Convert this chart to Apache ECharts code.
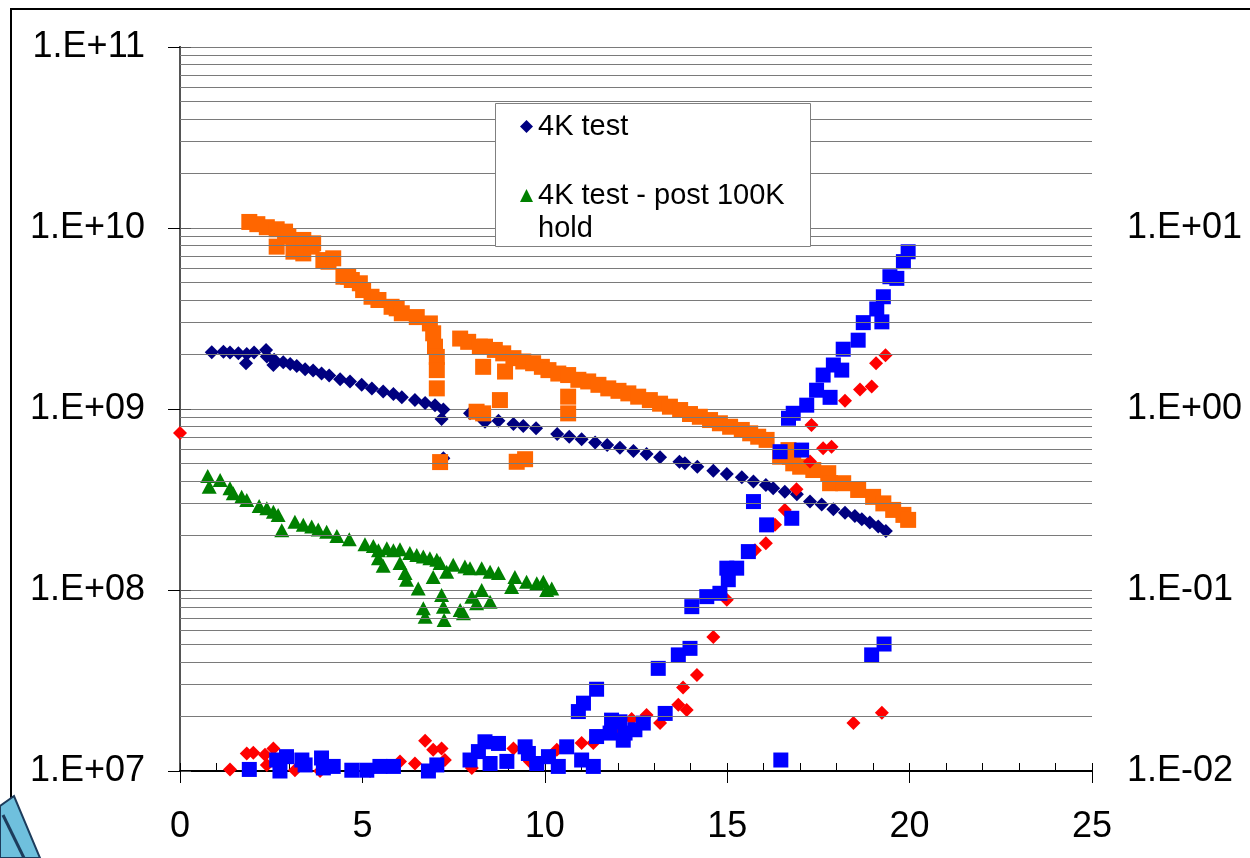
<!DOCTYPE html>
<html>
<head>
<meta charset="utf-8">
<script src="https://cdn.jsdelivr.net/npm/echarts@6/dist/echarts.min.js"></script>
<style>
html,body{margin:0;padding:0;background:#fff;}
#chart{width:1250px;height:858px;}
</style>
</head>
<body>
<div id="chart"></div>
<script>
// ---- DATA (x, value) ----
var seriesNames = ['4K test', '4K test - post 100K hold'];

var navyPts = [[0.87,2.06e9],[1.19,2.07e9],[1.37,2.05e9],[1.60,2.03e9],[1.81,1.79e9],[1.83,2.01e9],[2.03,2.05e9],[2.36,2.12e9],[2.38,1.95e9],[2.56,1.75e9],[2.58,1.87e9],[2.83,1.81e9],[3.02,1.77e9],[3.20,1.73e9],[3.43,1.66e9],[3.65,1.63e9],[3.88,1.57e9],[4.09,1.53e9],[4.39,1.46e9],[4.66,1.42e9],[4.98,1.36e9],[5.26,1.30e9],[5.57,1.25e9],[5.85,1.21e9],[6.08,1.16e9],[6.44,1.12e9],[6.72,1.08e9],[6.99,1.05e9],[7.22,9.95e8],[7.17,8.8e8],[7.22,5.35e8],[7.95,9.46e8],[8.31,8.69e8],[8.36,8.51e8],[8.73,8.61e8],[9.14,8.26e8],[9.41,8.05e8],[9.76,7.82e8],[10.34,7.28e8],[10.67,7.03e8],[11.01,6.80e8],[11.38,6.52e8],[11.71,6.33e8],[12.06,6.11e8],[12.43,5.86e8],[12.79,5.64e8],[13.16,5.41e8],[13.69,5.11e8],[13.84,5.01e8],[14.18,4.80e8],[14.62,4.56e8],[14.99,4.38e8],[15.40,4.20e8],[15.72,3.97e8],[16.06,3.80e8],[16.26,3.65e8],[16.58,3.49e8],[16.91,3.38e8],[17.27,3.08e8],[17.59,2.97e8],[17.91,2.79e8],[18.23,2.67e8],[18.50,2.56e8],[18.69,2.46e8],[18.91,2.36e8],[19.14,2.24e8],[19.35,2.12e8]];

var greenPts = [[0.76,4.27e8],[0.80,3.72e8],[1.10,4.05e8],[1.37,3.65e8],[1.46,3.42e8],[1.69,3.27e8],[1.83,3.14e8],[2.17,2.91e8],[2.38,2.83e8],[2.56,2.71e8],[2.69,2.60e8],[2.79,2.14e8],[3.15,2.38e8],[3.38,2.29e8],[3.61,2.24e8],[3.79,2.16e8],[4.02,2.10e8],[4.30,1.99e8],[4.64,1.91e8],[5.07,1.79e8],[5.30,1.75e8],[5.44,1.66e8],[5.44,1.50e8],[5.57,1.36e8],[5.67,1.70e8],[5.85,1.66e8],[6.03,1.68e8],[6.03,1.41e8],[6.17,1.24e8],[6.21,1.14e8],[6.30,1.60e8],[6.49,1.56e8],[6.53,1.02e8],[6.67,1.53e8],[6.67,7.93e7],[6.72,7.12e7],[6.85,1.50e8],[6.94,1.18e8],[7.04,1.47e8],[7.13,1.41e8],[7.17,9.38e7],[7.22,8.09e7],[7.24,6.83e7],[7.31,1.26e8],[7.49,1.38e8],[7.68,7.76e7],[7.77,7.43e7],[7.81,1.35e8],[7.95,1.32e8],[8.00,9.18e7],[8.13,8.45e7],[8.27,1.00e8],[8.27,1.32e8],[8.50,8.61e7],[8.50,1.26e8],[8.73,1.24e8],[9.09,1.04e8],[9.18,1.18e8],[9.50,1.11e8],[9.78,1.09e8],[9.96,1.11e8],[10.05,1.00e8],[10.19,1.02e8]];

var orangePts = [[1.90,1.08e10],[2.12,1.05e10],[2.38,1.01e10],[2.65,9.84e9],[2.65,7.89e9],[2.88,9.55e9],[2.97,8.96e9],[3.11,7.40e9],[3.20,8.23e9],[3.38,8.59e9],[3.38,7.24e9],[3.61,7.89e9],[3.65,8.23e9],[3.93,6.65e9],[4.07,6.51e9],[4.20,6.80e9],[4.48,5.38e9],[4.61,5.38e9],[4.71,5.16e9],[4.93,4.95e9],[5.02,4.54e9],[5.25,4.17e9],[5.44,4.00e9],[5.80,3.67e9],[5.94,3.60e9],[6.08,3.38e9],[6.49,3.22e9],[6.85,2.97e9],[6.94,2.62e9],[6.99,2.21e9],[7.04,1.94e9],[7.04,1.64e9],[7.04,1.30e9],[7.13,5.09e8],[7.68,2.45e9],[7.90,2.35e9],[8.22,2.21e9],[8.13,9.66e8],[8.31,1.71e9],[8.31,9.46e8],[8.36,2.21e9],[8.63,2.12e9],[8.77,1.12e9],[8.86,2.03e9],[8.91,1.61e9],[9.14,1.91e9],[9.23,5.11e8],[9.46,5.28e8],[9.41,1.83e9],[9.68,1.79e9],[9.92,1.71e9],[10.10,1.64e9],[10.37,1.57e9],[10.64,1.54e9],[10.64,1.17e9],[10.64,9.46e8],[10.92,1.45e9],[11.19,1.42e9],[11.47,1.36e9],[11.74,1.30e9],[12.02,1.26e9],[12.29,1.22e9],[12.56,1.17e9],[12.88,1.12e9],[13.16,1.07e9],[13.43,1.03e9],[13.71,9.87e8],[13.98,9.38e8],[14.25,9.06e8],[14.53,8.69e8],[14.80,8.34e8],[15.08,7.98e8],[15.40,7.66e8],[15.63,7.34e8],[15.85,7.03e8],[16.08,6.75e8],[16.45,5.45e8],[16.68,5.93e8],[16.72,5.45e8],[16.81,5.01e8],[17.00,4.80e8],[17.36,4.60e8],[17.77,4.42e8],[17.82,3.89e8],[18.18,3.89e8],[18.59,3.57e8],[19.00,3.27e8],[19.28,3.01e8],[19.55,2.77e8],[19.83,2.60e8],[19.96,2.44e8]];

var redPts = [[0.00,0.736],[1.37,0.0102],[1.83,0.0125],[2.01,0.0126],[2.33,0.0123],[2.38,0.0108],[2.56,0.0133],[3.15,0.0101],[3.84,0.0100],[5.21,0.0100],[6.03,0.0113],[6.44,0.0110],[6.72,0.0147],[6.94,0.0131],[7.17,0.0133],[7.26,0.0115],[8.00,0.0104],[9.14,0.0133],[9.59,0.0113],[10.33,0.0131],[11.01,0.0143],[11.33,0.0143],[12.01,0.0162],[12.38,0.0194],[12.79,0.0204],[13.16,0.0184],[13.66,0.0232],[13.89,0.0217],[13.79,0.0289],[14.17,0.0339],[14.62,0.0550],[14.99,0.0883],[15.76,0.166],[16.06,0.181],[16.31,0.229],[16.58,0.277],[16.90,0.360],[17.27,0.513],[17.31,0.817],[17.63,0.607],[17.86,0.619],[18.23,1.11],[18.64,1.28],[18.96,1.33],[19.08,1.79],[19.34,1.98],[18.46,0.0184],[19.24,0.0210]];

var bluePts = [[1.90,0.0102],[2.65,0.0115],[2.74,0.0100],[2.92,0.0120],[3.34,0.0115],[3.43,0.0108],[3.88,0.0118],[3.93,0.0104],[4.20,0.0106],[4.71,0.0101],[5.12,0.0101],[5.48,0.0106],[5.85,0.0106],[6.81,0.0100],[7.04,0.0108],[7.95,0.0115],[8.18,0.0128],[8.36,0.0145],[8.50,0.0110],[8.73,0.0142],[8.96,0.0113],[9.46,0.0136],[9.55,0.0125],[9.78,0.0110],[10.10,0.0120],[10.37,0.0106],[10.60,0.0136],[10.92,0.0213],[11.06,0.0237],[11.42,0.0283],[11.01,0.0115],[11.33,0.0106],[11.42,0.0155],[11.79,0.0162],[11.83,0.0191],[12.06,0.0187],[12.15,0.0148],[12.20,0.0162],[12.47,0.0169],[12.70,0.0184],[13.11,0.0369],[13.30,0.0208],[13.66,0.0438],[13.98,0.0476],[14.03,0.0809],[14.44,0.0919],[14.80,0.0959],[14.99,0.132],[15.03,0.114],[15.26,0.132],[15.58,0.163],[15.72,0.308],[16.08,0.229],[16.45,0.581],[16.47,0.0115],[16.77,0.249],[17.04,0.593],[16.68,0.889],[16.81,0.947],[17.18,1.05],[17.45,1.27],[17.82,1.16],[17.63,1.54],[17.91,1.75],[18.14,1.64],[18.18,2.14],[18.59,2.40],[18.73,3.00],[19.10,3.57],[19.24,3.03],[19.28,4.17],[19.46,5.38],[19.65,5.27],[19.83,6.52],[19.96,7.39],[18.96,0.0438],[19.30,0.0503]];

var leftTicks = [1e7, 1e8, 1e9, 1e10, 1e11];
var rightTicks = [1e-2, 1e-1, 1, 10];

// ---- helpers ----
function sciLabel(v) {
  var e = Math.round(Math.log10(v));
  return '1.E' + (e < 0 ? '-' : '+') + String(Math.abs(e)).padStart(2, '0');
}
var minorGrid = [];
for (var d = 7; d < 11; d++) {
  for (var m = 2; m <= 9; m++) minorGrid.push({ yAxis: m * Math.pow(10, d) });
}

var FONT = 'Liberation Sans, Arial, sans-serif';
var chart = echarts.init(document.getElementById('chart'), null, { renderer: 'canvas' });

function pts(style) { return Object.assign({ opacity: 1 }, style); }

chart.setOption({
  animation: false,
  backgroundColor: '#ffffff',
  grid: { left: 180, right: 158, top: 47, bottom: 87, containLabel: false },
  xAxis: [{
    type: 'value', min: 0, max: 25, interval: 5, position: 'bottom',
    axisLine: { show: true, lineStyle: { color: '#000', width: 2 } },
    axisTick: { show: true, inside: false, length: 12, lineStyle: { color: '#000', width: 1 } },
    axisLabel: { fontFamily: FONT, fontSize: 36, color: '#000', margin: 38 },
    splitLine: { show: false }
  }, {
    type: 'value', min: 0, max: 25, interval: 1, position: 'bottom',
    axisLine: { show: false },
    axisTick: { show: true, inside: true, length: 8, lineStyle: { color: '#000', width: 1 } },
    axisLabel: { show: false },
    splitLine: { show: false }
  }],
  yAxis: [{
    type: 'log', logBase: 10, min: 1e7, max: 1e11, position: 'left',
    axisLine: { show: true, lineStyle: { color: '#000', width: 2 } },
    axisTick: { show: true, inside: false, length: 12, lineStyle: { color: '#000' } },
    axisLabel: { fontFamily: FONT, fontSize: 36, color: '#000', margin: 35,
      formatter: function (v) { return sciLabel(v); } },
    splitLine: { show: true, lineStyle: { color: '#7a7a7a', width: 1 } }
  }, {
    type: 'log', logBase: 10, min: 1e-2, max: 1e2, position: 'right',
    axisLine: { show: true, lineStyle: { color: '#555', width: 2 } },
    axisTick: { show: true, inside: false, length: 11, lineStyle: { color: '#555' } },
    axisLabel: { fontFamily: FONT, fontSize: 36, color: '#000', margin: 35,
      formatter: function (v) { return v > 50 ? '' : sciLabel(v); } },
    splitLine: { show: false }
  }],
  legend: [{
    z: 20,
    data: [{ name: seriesNames[0], icon: 'diamond' }],
    left: 520, top: 112, padding: 0, itemWidth: 13, itemHeight: 13,
    selectedMode: false,
    textStyle: { fontFamily: FONT, fontSize: 29, color: '#000' }
  }, {
    z: 20,
    data: [{ name: seriesNames[1], icon: 'triangle' }],
    left: 520, top: 146, padding: 0, itemWidth: 13, itemHeight: 13,
    selectedMode: false,
    formatter: function () { return ' \n4K test - post 100K\nhold'; },
    textStyle: { fontFamily: FONT, fontSize: 29, lineHeight: 33, color: '#000' }
  }],
  graphic: [
    { type: 'rect', z: 10, shape: { x: 495.5, y: 103.5, width: 315, height: 143 },
      style: { fill: '#fff', stroke: '#808080', lineWidth: 1 } },
    { type: 'polyline', z: 100, shape: { points: [[11, 800], [11, 9], [1250, 9]] },
      style: { stroke: '#000', lineWidth: 2, fill: null } },
    { type: 'polygon', z: 100, shape: { points: [[0, 806], [14, 796], [40, 858], [0, 858]] },
      style: { fill: '#6fc0dd', stroke: '#1d3c5c', lineWidth: 2 } },
    { type: 'polyline', z: 101, shape: { points: [[3, 815], [24, 858]] },
      style: { stroke: '#1d3c5c', lineWidth: 3, fill: null } }
  ],
  series: [{
    name: 'grid-minor', type: 'line', data: [], z: 1, silent: true,
    markLine: {
      silent: true, symbol: ['none', 'none'], label: { show: false },
      lineStyle: { color: '#7a7a7a', width: 1, type: 'solid' },
      emphasis: { disabled: true },
      data: minorGrid
    }
  }, {
    name: seriesNames[1], type: 'scatter', xAxisIndex: 0, yAxisIndex: 0, z: 3,
    symbol: 'triangle', symbolSize: [15, 14], itemStyle: pts({ color: '#008000' }), data: greenPts
  }, {
    name: seriesNames[0], type: 'scatter', xAxisIndex: 0, yAxisIndex: 0, z: 3,
    symbol: 'diamond', symbolSize: 14, itemStyle: pts({ color: '#000080' }), data: navyPts
  }, {
    name: 'orange', type: 'scatter', xAxisIndex: 0, yAxisIndex: 0, z: 3,
    symbol: 'rect', symbolSize: 16, itemStyle: pts({ color: '#FF6600' }), data: orangePts
  }, {
    name: 'red', type: 'scatter', xAxisIndex: 0, yAxisIndex: 1, z: 3,
    symbol: 'diamond', symbolSize: 14, itemStyle: pts({ color: '#FF0000' }), data: redPts
  }, {
    name: 'blue', type: 'scatter', xAxisIndex: 0, yAxisIndex: 1, z: 3,
    symbol: 'rect', symbolSize: 15, itemStyle: pts({ color: '#0000FF' }), data: bluePts
  }]
});
</script>
</body>
</html>
